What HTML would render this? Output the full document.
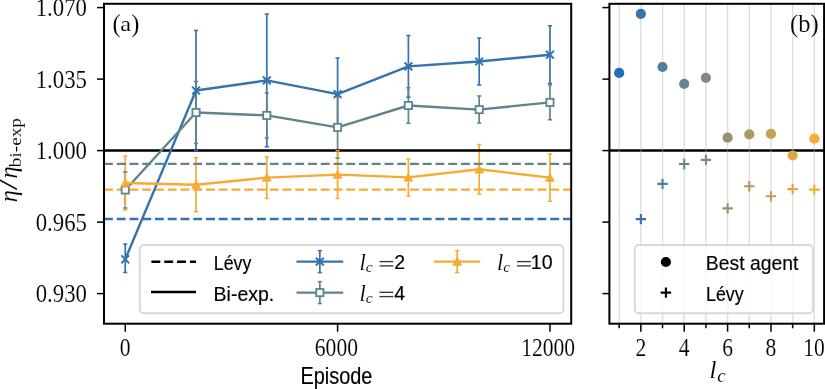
<!DOCTYPE html><html><head><meta charset="utf-8"><style>html,body{margin:0;padding:0;background:#fff;width:825px;height:389px;overflow:hidden}svg{display:block;will-change:transform}.sr{font-family:"Liberation Serif",serif;stroke:#fff;stroke-width:0.1px}.ss{font-family:"Liberation Sans",sans-serif;stroke:#000;stroke-width:0.18px}</style></head><body><svg width="825" height="389" viewBox="0 0 825 389"><rect width="825" height="389" fill="#fff"/><defs><clipPath id="ca"><rect x="104" y="3.8" width="467.2" height="319.9"/></clipPath><clipPath id="cb"><rect x="609.4" y="3.8" width="214.7" height="319.9"/></clipPath></defs><g clip-path="url(#ca)"><line x1="125.24" y1="243.9" x2="125.24" y2="272.4" stroke="#3473ad" stroke-width="1.7"/><line x1="196.02" y1="30.5" x2="196.02" y2="150.5" stroke="#3473ad" stroke-width="1.7"/><line x1="266.81" y1="14" x2="266.81" y2="146.8" stroke="#3473ad" stroke-width="1.7"/><line x1="337.6" y1="58.1" x2="337.6" y2="130.1" stroke="#3473ad" stroke-width="1.7"/><line x1="408.39" y1="35.5" x2="408.39" y2="97.3" stroke="#3473ad" stroke-width="1.7"/><line x1="479.18" y1="37.9" x2="479.18" y2="85.1" stroke="#3473ad" stroke-width="1.7"/><line x1="549.96" y1="25.8" x2="549.96" y2="83.6" stroke="#3473ad" stroke-width="1.7"/><line x1="125.24" y1="172" x2="125.24" y2="208" stroke="#5f848b" stroke-width="1.7"/><line x1="196.02" y1="81.6" x2="196.02" y2="143.4" stroke="#5f848b" stroke-width="1.7"/><line x1="266.81" y1="92.9" x2="266.81" y2="137.9" stroke="#5f848b" stroke-width="1.7"/><line x1="337.6" y1="96.6" x2="337.6" y2="158.2" stroke="#5f848b" stroke-width="1.7"/><line x1="408.39" y1="87.8" x2="408.39" y2="123.2" stroke="#5f848b" stroke-width="1.7"/><line x1="479.18" y1="96.1" x2="479.18" y2="123.1" stroke="#5f848b" stroke-width="1.7"/><line x1="549.96" y1="85" x2="549.96" y2="119.8" stroke="#5f848b" stroke-width="1.7"/><line x1="125.24" y1="156.1" x2="125.24" y2="209.9" stroke="#f5ab31" stroke-width="1.7"/><line x1="196.02" y1="157.8" x2="196.02" y2="211.8" stroke="#f5ab31" stroke-width="1.7"/><line x1="266.81" y1="156.7" x2="266.81" y2="198.5" stroke="#f5ab31" stroke-width="1.7"/><line x1="337.6" y1="150.8" x2="337.6" y2="198.4" stroke="#f5ab31" stroke-width="1.7"/><line x1="408.39" y1="158.9" x2="408.39" y2="195.9" stroke="#f5ab31" stroke-width="1.7"/><line x1="479.18" y1="144.5" x2="479.18" y2="194.1" stroke="#f5ab31" stroke-width="1.7"/><line x1="549.96" y1="153.9" x2="549.96" y2="201.3" stroke="#f5ab31" stroke-width="1.7"/><line x1="104" y1="219" x2="571.2" y2="219" stroke="#3473ad" stroke-width="2.4" stroke-dasharray="8.9 3.85"/><line x1="104" y1="163.9" x2="571.2" y2="163.9" stroke="#5f848b" stroke-width="2.4" stroke-dasharray="8.9 3.85"/><line x1="104" y1="189.6" x2="571.2" y2="189.6" stroke="#f5ab31" stroke-width="2.4" stroke-dasharray="8.9 3.85"/><line x1="104" y1="150.5" x2="571.2" y2="150.5" stroke="#000" stroke-width="2.4"/><line x1="123.14" y1="243.9" x2="127.34" y2="243.9" stroke="#3473ad" stroke-width="1.5"/><line x1="123.14" y1="272.4" x2="127.34" y2="272.4" stroke="#3473ad" stroke-width="1.5"/><line x1="193.92" y1="30.5" x2="198.12" y2="30.5" stroke="#3473ad" stroke-width="1.5"/><line x1="193.92" y1="150.5" x2="198.12" y2="150.5" stroke="#3473ad" stroke-width="1.5"/><line x1="264.71" y1="14" x2="268.91" y2="14" stroke="#3473ad" stroke-width="1.5"/><line x1="264.71" y1="146.8" x2="268.91" y2="146.8" stroke="#3473ad" stroke-width="1.5"/><line x1="335.5" y1="58.1" x2="339.7" y2="58.1" stroke="#3473ad" stroke-width="1.5"/><line x1="335.5" y1="130.1" x2="339.7" y2="130.1" stroke="#3473ad" stroke-width="1.5"/><line x1="406.29" y1="35.5" x2="410.49" y2="35.5" stroke="#3473ad" stroke-width="1.5"/><line x1="406.29" y1="97.3" x2="410.49" y2="97.3" stroke="#3473ad" stroke-width="1.5"/><line x1="477.08" y1="37.9" x2="481.28" y2="37.9" stroke="#3473ad" stroke-width="1.5"/><line x1="477.08" y1="85.1" x2="481.28" y2="85.1" stroke="#3473ad" stroke-width="1.5"/><line x1="547.86" y1="25.8" x2="552.06" y2="25.8" stroke="#3473ad" stroke-width="1.5"/><line x1="547.86" y1="83.6" x2="552.06" y2="83.6" stroke="#3473ad" stroke-width="1.5"/><line x1="123.14" y1="172" x2="127.34" y2="172" stroke="#5f848b" stroke-width="1.5"/><line x1="123.14" y1="208" x2="127.34" y2="208" stroke="#5f848b" stroke-width="1.5"/><line x1="193.92" y1="81.6" x2="198.12" y2="81.6" stroke="#5f848b" stroke-width="1.5"/><line x1="193.92" y1="143.4" x2="198.12" y2="143.4" stroke="#5f848b" stroke-width="1.5"/><line x1="264.71" y1="92.9" x2="268.91" y2="92.9" stroke="#5f848b" stroke-width="1.5"/><line x1="264.71" y1="137.9" x2="268.91" y2="137.9" stroke="#5f848b" stroke-width="1.5"/><line x1="335.5" y1="96.6" x2="339.7" y2="96.6" stroke="#5f848b" stroke-width="1.5"/><line x1="335.5" y1="158.2" x2="339.7" y2="158.2" stroke="#5f848b" stroke-width="1.5"/><line x1="406.29" y1="87.8" x2="410.49" y2="87.8" stroke="#5f848b" stroke-width="1.5"/><line x1="406.29" y1="123.2" x2="410.49" y2="123.2" stroke="#5f848b" stroke-width="1.5"/><line x1="477.08" y1="96.1" x2="481.28" y2="96.1" stroke="#5f848b" stroke-width="1.5"/><line x1="477.08" y1="123.1" x2="481.28" y2="123.1" stroke="#5f848b" stroke-width="1.5"/><line x1="547.86" y1="85" x2="552.06" y2="85" stroke="#5f848b" stroke-width="1.5"/><line x1="547.86" y1="119.8" x2="552.06" y2="119.8" stroke="#5f848b" stroke-width="1.5"/><line x1="123.14" y1="156.1" x2="127.34" y2="156.1" stroke="#f5ab31" stroke-width="1.5"/><line x1="123.14" y1="209.9" x2="127.34" y2="209.9" stroke="#f5ab31" stroke-width="1.5"/><line x1="193.92" y1="157.8" x2="198.12" y2="157.8" stroke="#f5ab31" stroke-width="1.5"/><line x1="193.92" y1="211.8" x2="198.12" y2="211.8" stroke="#f5ab31" stroke-width="1.5"/><line x1="264.71" y1="156.7" x2="268.91" y2="156.7" stroke="#f5ab31" stroke-width="1.5"/><line x1="264.71" y1="198.5" x2="268.91" y2="198.5" stroke="#f5ab31" stroke-width="1.5"/><line x1="335.5" y1="150.8" x2="339.7" y2="150.8" stroke="#f5ab31" stroke-width="1.5"/><line x1="335.5" y1="198.4" x2="339.7" y2="198.4" stroke="#f5ab31" stroke-width="1.5"/><line x1="406.29" y1="158.9" x2="410.49" y2="158.9" stroke="#f5ab31" stroke-width="1.5"/><line x1="406.29" y1="195.9" x2="410.49" y2="195.9" stroke="#f5ab31" stroke-width="1.5"/><line x1="477.08" y1="144.5" x2="481.28" y2="144.5" stroke="#f5ab31" stroke-width="1.5"/><line x1="477.08" y1="194.1" x2="481.28" y2="194.1" stroke="#f5ab31" stroke-width="1.5"/><line x1="547.86" y1="153.9" x2="552.06" y2="153.9" stroke="#f5ab31" stroke-width="1.5"/><line x1="547.86" y1="201.3" x2="552.06" y2="201.3" stroke="#f5ab31" stroke-width="1.5"/><polyline points="125.24,259.3 196.02,90.5 266.81,80.4 337.6,94.1 408.39,66.4 479.18,61.5 549.96,54.7" fill="none" stroke="#3473ad" stroke-width="2.4" stroke-linejoin="round"/><path d="M121.34 255.4L129.14 263.2M121.34 263.2L129.14 255.4" stroke="#3473ad" stroke-width="2.0" fill="none"/><path d="M192.12 86.6L199.92 94.4M192.12 94.4L199.92 86.6" stroke="#3473ad" stroke-width="2.0" fill="none"/><path d="M262.91 76.5L270.71 84.3M262.91 84.3L270.71 76.5" stroke="#3473ad" stroke-width="2.0" fill="none"/><path d="M333.7 90.2L341.5 98M333.7 98L341.5 90.2" stroke="#3473ad" stroke-width="2.0" fill="none"/><path d="M404.49 62.5L412.29 70.3M404.49 70.3L412.29 62.5" stroke="#3473ad" stroke-width="2.0" fill="none"/><path d="M475.28 57.6L483.08 65.4M475.28 65.4L483.08 57.6" stroke="#3473ad" stroke-width="2.0" fill="none"/><path d="M546.06 50.8L553.86 58.6M546.06 58.6L553.86 50.8" stroke="#3473ad" stroke-width="2.0" fill="none"/><polyline points="125.24,190 196.02,112.5 266.81,115.4 337.6,127.4 408.39,105.5 479.18,109.6 549.96,102.4" fill="none" stroke="#5f848b" stroke-width="2.4" stroke-linejoin="round"/><rect x="121.64" y="186.4" width="7.2" height="7.2" fill="#fff" stroke="#5f848b" stroke-width="1.8"/><rect x="192.42" y="108.9" width="7.2" height="7.2" fill="#fff" stroke="#5f848b" stroke-width="1.8"/><rect x="263.21" y="111.8" width="7.2" height="7.2" fill="#fff" stroke="#5f848b" stroke-width="1.8"/><rect x="334" y="123.8" width="7.2" height="7.2" fill="#fff" stroke="#5f848b" stroke-width="1.8"/><rect x="404.79" y="101.9" width="7.2" height="7.2" fill="#fff" stroke="#5f848b" stroke-width="1.8"/><rect x="475.58" y="106" width="7.2" height="7.2" fill="#fff" stroke="#5f848b" stroke-width="1.8"/><rect x="546.36" y="98.8" width="7.2" height="7.2" fill="#fff" stroke="#5f848b" stroke-width="1.8"/><polyline points="125.24,183 196.02,184.8 266.81,177.6 337.6,174.6 408.39,177.4 479.18,169.3 549.96,177.6" fill="none" stroke="#f5ab31" stroke-width="2.4" stroke-linejoin="round"/><path d="M125.24 178.65L120.89 186.7L129.59 186.7Z" fill="#f5ab31" stroke="#f5ab31" stroke-width="0.8"/><path d="M196.02 180.45L191.67 188.5L200.37 188.5Z" fill="#f5ab31" stroke="#f5ab31" stroke-width="0.8"/><path d="M266.81 173.25L262.46 181.3L271.16 181.3Z" fill="#f5ab31" stroke="#f5ab31" stroke-width="0.8"/><path d="M337.6 170.25L333.25 178.3L341.95 178.3Z" fill="#f5ab31" stroke="#f5ab31" stroke-width="0.8"/><path d="M408.39 173.05L404.04 181.1L412.74 181.1Z" fill="#f5ab31" stroke="#f5ab31" stroke-width="0.8"/><path d="M479.18 164.95L474.83 173L483.53 173Z" fill="#f5ab31" stroke="#f5ab31" stroke-width="0.8"/><path d="M549.96 173.25L545.61 181.3L554.31 181.3Z" fill="#f5ab31" stroke="#f5ab31" stroke-width="0.8"/></g><rect x="139.8" y="245.0" width="423.6" height="68.2" rx="4" ry="4" fill="#fff" fill-opacity="0.8" stroke="#d8d8d8" stroke-width="1.9"/><line x1="151.4" y1="261.7" x2="196" y2="261.7" stroke="#000" stroke-width="2.4" stroke-dasharray="8.9 3.93"/><line x1="151" y1="292" x2="196" y2="292" stroke="#000" stroke-width="2.4"/><text class="ss" x="213.8" y="269.9" font-size="21" textLength="37.6" lengthAdjust="spacingAndGlyphs">Lévy</text><text class="ss" x="213.6" y="300.6" font-size="21" textLength="60.6" lengthAdjust="spacingAndGlyphs">Bi-exp.</text><line x1="319.85" y1="250.6" x2="319.85" y2="272.6" stroke="#3473ad" stroke-width="1.7"/><line x1="317.75" y1="250.6" x2="321.95" y2="250.6" stroke="#3473ad" stroke-width="1.5"/><line x1="317.75" y1="272.6" x2="321.95" y2="272.6" stroke="#3473ad" stroke-width="1.5"/><line x1="296.5" y1="261.6" x2="343.2" y2="261.6" stroke="#3473ad" stroke-width="2.4"/><path d="M315.95 257.7L323.75 265.5M315.95 265.5L323.75 257.7" stroke="#3473ad" stroke-width="2.0" fill="none"/><line x1="319.85" y1="281.6" x2="319.85" y2="303.6" stroke="#5f848b" stroke-width="1.7"/><line x1="317.75" y1="281.6" x2="321.95" y2="281.6" stroke="#5f848b" stroke-width="1.5"/><line x1="317.75" y1="303.6" x2="321.95" y2="303.6" stroke="#5f848b" stroke-width="1.5"/><line x1="296.5" y1="292.6" x2="343.2" y2="292.6" stroke="#5f848b" stroke-width="2.4"/><rect x="316.25" y="289" width="7.2" height="7.2" fill="#fff" stroke="#5f848b" stroke-width="1.8"/><line x1="457.2" y1="250.6" x2="457.2" y2="272.6" stroke="#f5ab31" stroke-width="1.7"/><line x1="455.1" y1="250.6" x2="459.3" y2="250.6" stroke="#f5ab31" stroke-width="1.5"/><line x1="455.1" y1="272.6" x2="459.3" y2="272.6" stroke="#f5ab31" stroke-width="1.5"/><line x1="434.2" y1="261.6" x2="480.2" y2="261.6" stroke="#f5ab31" stroke-width="2.4"/><path d="M457.2 257.25L452.85 265.3L461.55 265.3Z" fill="#f5ab31" stroke="#f5ab31" stroke-width="0.8"/><text class="sr" font-style="italic" x="359.4" y="270.2" font-size="22.5">l</text><text class="sr" font-style="italic" x="365.8" y="272" font-size="15.5">c</text><line x1="379.5" y1="261.6" x2="393.3" y2="261.6" stroke="#3a3a3a" stroke-width="1.35"/><line x1="379.5" y1="265.9" x2="393.3" y2="265.9" stroke="#3a3a3a" stroke-width="1.35"/><text class="ss" x="394.2" y="269.4" font-size="19.5">2</text><text class="sr" font-style="italic" x="359.4" y="300.9" font-size="22.5">l</text><text class="sr" font-style="italic" x="365.8" y="302.7" font-size="15.5">c</text><line x1="379.5" y1="292.3" x2="393.3" y2="292.3" stroke="#3a3a3a" stroke-width="1.35"/><line x1="379.5" y1="296.6" x2="393.3" y2="296.6" stroke="#3a3a3a" stroke-width="1.35"/><text class="ss" x="394.2" y="300.1" font-size="19.5">4</text><text class="sr" font-style="italic" x="496.9" y="270.2" font-size="22.5">l</text><text class="sr" font-style="italic" x="503.3" y="272" font-size="15.5">c</text><line x1="517" y1="261.6" x2="530.8" y2="261.6" stroke="#3a3a3a" stroke-width="1.35"/><line x1="517" y1="265.9" x2="530.8" y2="265.9" stroke="#3a3a3a" stroke-width="1.35"/><text class="ss" x="530.8" y="269.4" font-size="19.5">10</text><rect x="104" y="3.8" width="467.2" height="319.9" fill="none" stroke="#000" stroke-width="2"/><line x1="97" y1="7.6" x2="104" y2="7.6" stroke="#000" stroke-width="1.5"/><text class="sr" transform="translate(87,16.45) scale(1,1.1)" font-size="22.8" text-anchor="end">1.070</text><line x1="97" y1="79.1" x2="104" y2="79.1" stroke="#000" stroke-width="1.5"/><text class="sr" transform="translate(87,87.95) scale(1,1.1)" font-size="22.8" text-anchor="end">1.035</text><line x1="97" y1="150.6" x2="104" y2="150.6" stroke="#000" stroke-width="1.5"/><text class="sr" transform="translate(87,159.45) scale(1,1.1)" font-size="22.8" text-anchor="end">1.000</text><line x1="97" y1="222.1" x2="104" y2="222.1" stroke="#000" stroke-width="1.5"/><text class="sr" transform="translate(87,230.95) scale(1,1.1)" font-size="22.8" text-anchor="end">0.965</text><line x1="97" y1="293.6" x2="104" y2="293.6" stroke="#000" stroke-width="1.5"/><text class="sr" transform="translate(87,302.45) scale(1,1.1)" font-size="22.8" text-anchor="end">0.930</text><line x1="125.24" y1="323.7" x2="125.24" y2="331.7" stroke="#000" stroke-width="1.5"/><text class="sr" transform="translate(125.04,356.15) scale(1,1.15)" font-size="21.6" text-anchor="middle">0</text><line x1="337.6" y1="323.7" x2="337.6" y2="331.7" stroke="#000" stroke-width="1.5"/><text class="sr" transform="translate(336.4,356.15) scale(1,1.15)" font-size="21.6" text-anchor="middle">6000</text><line x1="549.96" y1="323.7" x2="549.96" y2="331.7" stroke="#000" stroke-width="1.5"/><text class="sr" transform="translate(548.16,356.15) scale(1,1.15)" font-size="21.6" text-anchor="middle">12000</text><text class="ss" x="300.4" y="384" font-size="23.2" textLength="72" lengthAdjust="spacingAndGlyphs">Episode</text><text class="sr" x="112.5" y="32" font-size="24.5">(</text><text class="sr" transform="translate(120.2,31.4) scale(1,0.88)" font-size="24.5">a</text><text class="sr" x="131.3" y="32" font-size="24.5">)</text><g transform="translate(17,0) rotate(-90)"><text class="sr" font-style="italic" x="-202.2" y="0" font-size="24.5">η</text><text class="sr" x="-190.2" y="0" font-size="24.5" textLength="11" lengthAdjust="spacingAndGlyphs">/</text><text class="sr" font-style="italic" x="-178.6" y="0" font-size="24.5">η</text><text class="sr" x="-167.3" y="3.9" font-size="16.8" textLength="49.3" lengthAdjust="spacingAndGlyphs">bi-exp</text></g><g clip-path="url(#cb)"><line x1="609.4" y1="150.5" x2="824.1" y2="150.5" stroke="#000" stroke-width="2.4"/><line x1="619.16" y1="3.8" x2="619.16" y2="323.7" stroke="#b0b0b0" stroke-opacity="0.42" stroke-width="1.4"/><line x1="640.85" y1="3.8" x2="640.85" y2="323.7" stroke="#b0b0b0" stroke-opacity="0.42" stroke-width="1.4"/><line x1="662.53" y1="3.8" x2="662.53" y2="323.7" stroke="#b0b0b0" stroke-opacity="0.42" stroke-width="1.4"/><line x1="684.22" y1="3.8" x2="684.22" y2="323.7" stroke="#b0b0b0" stroke-opacity="0.42" stroke-width="1.4"/><line x1="705.91" y1="3.8" x2="705.91" y2="323.7" stroke="#b0b0b0" stroke-opacity="0.42" stroke-width="1.4"/><line x1="727.59" y1="3.8" x2="727.59" y2="323.7" stroke="#b0b0b0" stroke-opacity="0.42" stroke-width="1.4"/><line x1="749.28" y1="3.8" x2="749.28" y2="323.7" stroke="#b0b0b0" stroke-opacity="0.42" stroke-width="1.4"/><line x1="770.97" y1="3.8" x2="770.97" y2="323.7" stroke="#b0b0b0" stroke-opacity="0.42" stroke-width="1.4"/><line x1="792.65" y1="3.8" x2="792.65" y2="323.7" stroke="#b0b0b0" stroke-opacity="0.42" stroke-width="1.4"/><line x1="814.34" y1="3.8" x2="814.34" y2="323.7" stroke="#b0b0b0" stroke-opacity="0.42" stroke-width="1.4"/><circle cx="619.16" cy="72.9" r="5.1" fill="#206ebe"/><circle cx="640.85" cy="13.9" r="5.1" fill="#3875af"/><circle cx="662.53" cy="67" r="5.1" fill="#4f7c9f"/><circle cx="684.22" cy="83.8" r="5.1" fill="#678490"/><circle cx="705.91" cy="77.8" r="5.1" fill="#7f8b81"/><circle cx="727.59" cy="137.7" r="5.1" fill="#969271"/><circle cx="749.28" cy="134.4" r="5.1" fill="#ae9962"/><circle cx="770.97" cy="133.9" r="5.1" fill="#c6a153"/><circle cx="792.65" cy="155.5" r="5.1" fill="#dda843"/><circle cx="814.34" cy="138.7" r="5.1" fill="#f5af34"/><path d="M635.65 219.1H646.05M640.85 213.9V224.3" stroke="#3875af" stroke-width="2.1" fill="none"/><path d="M657.33 183.9H667.73M662.53 178.7V189.1" stroke="#4f7c9f" stroke-width="2.1" fill="none"/><path d="M679.02 164H689.42M684.22 158.8V169.2" stroke="#678490" stroke-width="2.1" fill="none"/><path d="M700.71 159.9H711.11M705.91 154.7V165.1" stroke="#7f8b81" stroke-width="2.1" fill="none"/><path d="M722.39 208.4H732.79M727.59 203.2V213.6" stroke="#969271" stroke-width="2.1" fill="none"/><path d="M744.08 186.3H754.48M749.28 181.1V191.5" stroke="#ae9962" stroke-width="2.1" fill="none"/><path d="M765.77 196.3H776.17M770.97 191.1V201.5" stroke="#c6a153" stroke-width="2.1" fill="none"/><path d="M787.45 189.1H797.85M792.65 183.9V194.3" stroke="#dda843" stroke-width="2.1" fill="none"/><path d="M809.14 189.6H819.54M814.34 184.4V194.8" stroke="#f5af34" stroke-width="2.1" fill="none"/></g><rect x="634.7" y="245.0" width="178.2" height="68.2" rx="4" ry="4" fill="#fff" fill-opacity="0.8" stroke="#d8d8d8" stroke-width="1.9"/><circle cx="665.9" cy="262" r="5.1" fill="#000"/><path d="M660.7 292.6H671.1M665.9 287.4V297.8" stroke="#000" stroke-width="2.1"/><text class="ss" x="705.8" y="269.7" font-size="21" textLength="92.5" lengthAdjust="spacingAndGlyphs">Best agent</text><text class="ss" x="706" y="300.7" font-size="21" textLength="37.6" lengthAdjust="spacingAndGlyphs">Lévy</text><rect x="609.4" y="3.8" width="214.7" height="319.9" fill="none" stroke="#000" stroke-width="2"/><line x1="602.4" y1="7.6" x2="609.4" y2="7.6" stroke="#000" stroke-width="1.5"/><line x1="602.4" y1="79.1" x2="609.4" y2="79.1" stroke="#000" stroke-width="1.5"/><line x1="602.4" y1="150.6" x2="609.4" y2="150.6" stroke="#000" stroke-width="1.5"/><line x1="602.4" y1="222.1" x2="609.4" y2="222.1" stroke="#000" stroke-width="1.5"/><line x1="602.4" y1="293.6" x2="609.4" y2="293.6" stroke="#000" stroke-width="1.5"/><line x1="619.16" y1="323.7" x2="619.16" y2="328.3" stroke="#000" stroke-width="1.5"/><line x1="640.85" y1="323.7" x2="640.85" y2="331.7" stroke="#000" stroke-width="1.5"/><text class="sr" transform="translate(640.85,356.15) scale(1,1.15)" font-size="21.6" text-anchor="middle">2</text><line x1="662.53" y1="323.7" x2="662.53" y2="328.3" stroke="#000" stroke-width="1.5"/><line x1="684.22" y1="323.7" x2="684.22" y2="331.7" stroke="#000" stroke-width="1.5"/><text class="sr" transform="translate(684.22,356.15) scale(1,1.15)" font-size="21.6" text-anchor="middle">4</text><line x1="705.91" y1="323.7" x2="705.91" y2="328.3" stroke="#000" stroke-width="1.5"/><line x1="727.59" y1="323.7" x2="727.59" y2="331.7" stroke="#000" stroke-width="1.5"/><text class="sr" transform="translate(727.59,356.15) scale(1,1.15)" font-size="21.6" text-anchor="middle">6</text><line x1="749.28" y1="323.7" x2="749.28" y2="328.3" stroke="#000" stroke-width="1.5"/><line x1="770.97" y1="323.7" x2="770.97" y2="331.7" stroke="#000" stroke-width="1.5"/><text class="sr" transform="translate(770.97,356.15) scale(1,1.15)" font-size="21.6" text-anchor="middle">8</text><line x1="792.65" y1="323.7" x2="792.65" y2="328.3" stroke="#000" stroke-width="1.5"/><line x1="814.34" y1="323.7" x2="814.34" y2="331.7" stroke="#000" stroke-width="1.5"/><text class="sr" transform="translate(814.04,356.15) scale(1,1.15)" font-size="21.6" text-anchor="middle">10</text><text x="709.5" y="377.8" font-size="25"><tspan class="sr" font-style="italic">l</tspan><tspan class="sr" font-style="italic" font-size="19" dy="4.5" dx="0.8">c</tspan></text><text class="sr" x="790" y="32" font-size="24.5">(b)</text></svg></body></html>
